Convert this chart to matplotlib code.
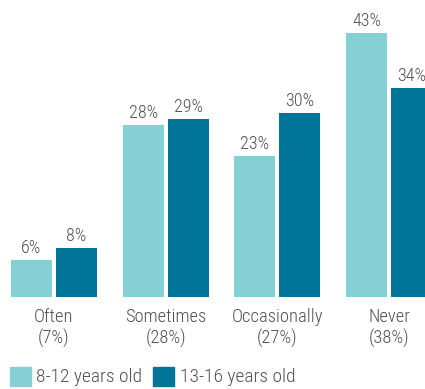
import matplotlib
matplotlib.use("Agg")
import matplotlib.pyplot as plt
from matplotlib.patches import Rectangle
import numpy as np

categories = ["Often", "Sometimes", "Occasionally", "Never"]
overall = ["7%", "28%", "27%", "38%"]
series_names = ["8-12 years old", "13-16 years old"]
kids = [6, 28, 23, 43]
teens = [8, 29, 30, 34]

light = "#84d0d5"
dark = "#00759a"
text_col = "#505050"

plt.rcParams["font.family"] = ["Roboto Condensed", "DejaVu Sans"]
plt.rcParams["font.weight"] = "light"

W, H = 425, 389
fig = plt.figure(figsize=(W / 100, H / 100), dpi=100)

base_px = 297
ax = fig.add_axes([0, (H - base_px) / H, 1, base_px / H])
pitch = 111.67
x0 = 54
ax.set_xlim(-x0 / pitch, (W - x0) / pitch)
ax.set_ylim(0, base_px / 6.14)
ax.axis("off")

x = np.arange(len(categories))
bw = 41 / pitch
off = 22.5 / pitch
b1 = ax.bar(x - off, kids, bw, color=light)
b2 = ax.bar(x + off, teens, bw, color=dark)

for bars, vals in ((b1, kids), (b2, teens)):
    for r, v in zip(bars, vals):
        ax.annotate(f"{v}%", (r.get_x() + r.get_width() / 2, v),
                    xytext=(0, 2), textcoords="offset points",
                    ha="center", va="bottom", fontsize=13, color=text_col)

for xi, c, o in zip(x, categories, overall):
    ax.annotate(f"{c}\n({o})", (xi, 0), xytext=(0, -8), textcoords="offset points",
                ha="center", va="top", fontsize=13.3, color=text_col,
                linespacing=1.22, annotation_clip=False)

# legend drawn with square swatches along the bottom
fig.patches.append(Rectangle((10 / W, (H - 386) / H), 21 / W, 19 / H,
                             transform=fig.transFigure, color=light))
fig.text(36 / W, (H - 376.5) / H, series_names[0], ha="left", va="center",
         fontsize=14, color=text_col)
fig.patches.append(Rectangle((153 / W, (H - 386) / H), 21 / W, 19 / H,
                             transform=fig.transFigure, color=dark))
fig.text(180 / W, (H - 376.5) / H, series_names[1], ha="left", va="center",
         fontsize=14, color=text_col)

fig.savefig("out.png", dpi=100, facecolor="white")
